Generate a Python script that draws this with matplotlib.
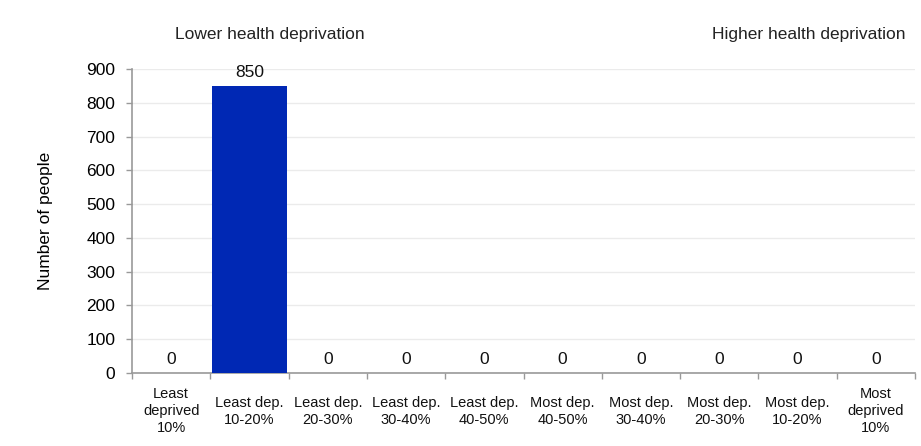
import matplotlib
matplotlib.use("Agg")
import matplotlib.pyplot as plt
import numpy as np

categories = ["Least\ndeprived\n10%", "Least dep.\n10-20%", "Least dep.\n20-30%",
              "Least dep.\n30-40%", "Least dep.\n40-50%", "Most dep.\n40-50%",
              "Most dep.\n30-40%", "Most dep.\n20-30%", "Most dep.\n10-20%",
              "Most\ndeprived\n10%"]
people = [0, 850, 0, 0, 0, 0, 0, 0, 0, 0]
yticks = [0, 100, 200, 300, 400, 500, 600, 700, 800, 900]

plt.rcParams["font.family"] = ["Liberation Sans", "DejaVu Sans"]

fig = plt.figure(figsize=(9.21, 4.46), dpi=100)
ax = fig.add_axes([132 / 921, 73 / 446, 783 / 921, 304 / 446])

x = np.arange(len(categories))
ax.bar(x, people, width=0.95, color="#0028b4", zorder=3)
for xi, v in zip(x, people):
    ax.annotate(f"{v}", (xi, v), xytext=(0, 4), textcoords="offset points",
                ha="center", va="bottom", fontsize=12.5, color="#111111")

ax.set_xlim(-0.5, len(categories) - 0.5)
ax.set_ylim(0, 900)
ax.set_yticks(yticks)
ax.set_yticklabels([str(t) for t in yticks], fontsize=12.5)
ax.yaxis.grid(True, color="#ebebeb", lw=1, zorder=0)
ax.set_axisbelow(True)

ax.set_xticks(np.arange(-0.5, len(categories)), minor=False)
ax.set_xticklabels([])
ax.tick_params(axis="x", length=4, color="#999999", width=1)
ax.tick_params(axis="y", length=4, color="#999999", width=1, pad=8)
for i, lab in enumerate(categories):
    ax.text(i, -113, lab, ha="center", va="center", fontsize=10.5,
            linespacing=1.25, color="#111111")

for side in ("top", "right"):
    ax.spines[side].set_visible(False)
for side in ("left", "bottom"):
    ax.spines[side].set_color("#999999")
    ax.spines[side].set_linewidth(1.2)

ax.set_ylabel("Number of people", fontsize=12.5, labelpad=24)

fig.text(270 / 921, 1 - 35 / 446, "Lower health deprivation", ha="center",
         va="center", fontsize=12.5, color="#222222")
fig.text(905 / 921, 1 - 35 / 446, "Higher health deprivation", ha="right",
         va="center", fontsize=12.5, color="#222222")

fig.savefig("out.png", dpi=100)
